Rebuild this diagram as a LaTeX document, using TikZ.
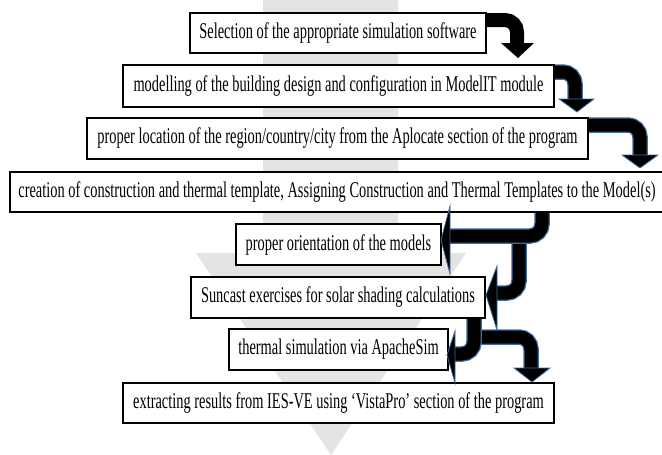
\documentclass[tikz,border=0pt]{standalone}
\usepackage{fontspec}
\setmainfont{Liberation Serif}[FakeStretch=0.64]
\definecolor{arrblue}{RGB}{62,108,160}
\definecolor{bggray}{RGB}{228,228,228}
\tikzset{
  box/.style={draw=black, line width=2pt, fill=white, inner sep=0pt,
    font=\fontsize{22.5}{26}\selectfont},
  outerband/.style={draw=arrblue, line width=15.5pt, rounded corners=12pt, line cap=butt},
  innerband/.style={draw=black, line width=13pt, rounded corners=12pt, line cap=butt},
  plainband/.style={draw=black, line width=14pt, rounded corners=12pt, line cap=butt},
  head/.style={fill=black, draw=arrblue, line width=0.8pt, line join=miter},
  plainhead/.style={fill=black}
}
\newcommand\bentarrow[2]{%
  \draw[outerband] #1;
  \draw[innerband] #1;
  \filldraw[head] #2;}
\begin{document}
\begin{tikzpicture}[x=1pt,y=-1pt]
\clip (0,0) rectangle (662,455);
% background arrow
\fill[bggray] (263,0) -- (398,0) -- (398,253) -- (466,253) -- (331,455)
  -- (196,253) -- (263,253) -- cycle;
% boxes
\node[box, minimum width=296pt, minimum height=40pt] (b1) at (338,32.5)
  {Selection of the appropriate simulation software};
\node[box, minimum width=431pt, minimum height=42pt] (b2) at (338.5,86)
  {modelling of the building design and configuration in ModelIT module};
\node[box, minimum width=501pt, minimum height=41pt] (b3) at (337.5,138.5)
  {proper location of the region/country/city from the Aplocate section of the program};
\node[box, minimum width=654pt, minimum height=40pt] (b4) at (337,192)
  {creation of construction and thermal template, Assigning Construction and Thermal Templates to the Model(s)};
\node[box, minimum width=205pt, minimum height=41pt] (b5) at (338.5,244.5)
  {proper orientation of the models};
\node[box, minimum width=294pt, minimum height=41pt] (b6) at (338,297.5)
  {Suncast exercises for solar shading calculations};
\node[box, minimum width=219pt, minimum height=41pt] (b7) at (338.5,349.5)
  {thermal simulation via ApacheSim};
\node[box, minimum width=431pt, minimum height=40pt] (b8) at (338.5,403)
  {extracting results from IES-VE using ‘VistaPro’ section of the program};
% arrow 1 (plain black)
\draw[plainband] (487,20) -- (517,20) -- (517,44);
\fill[plainhead] (501,43) -- (534,43) -- (518,58) -- cycle;
% arrow 2
\bentarrow{(555,72) -- (575,72) -- (575,100)}{(559,99) -- (594,99) -- (577,112) -- cycle}
% arrow 3
\bentarrow{(589,125) -- (640,125) -- (640,156)}{(622,155) -- (658,155) -- (640,168) -- cycle}
% arrow 5 (drawn before 4 so that 4 covers its start)
\bentarrow{(519,240) -- (519,293) -- (496,293)}{(497,266) -- (497,330) -- (486,295) -- cycle}
% arrow 4
\bentarrow{(542,213) -- (542,236) -- (449,236)}{(450,206) -- (450,274) -- (441,240) -- cycle}
% arrow 7 (drawn before 6)
\bentarrow{(476,337) -- (531,337) -- (531,369)}{(514,368) -- (550,368) -- (532,382) -- cycle}
% arrow 6
\bentarrow{(474,319) -- (474,354) -- (454,354)}{(455,331) -- (455,383) -- (447,355) -- cycle}
\end{tikzpicture}
\end{document}
